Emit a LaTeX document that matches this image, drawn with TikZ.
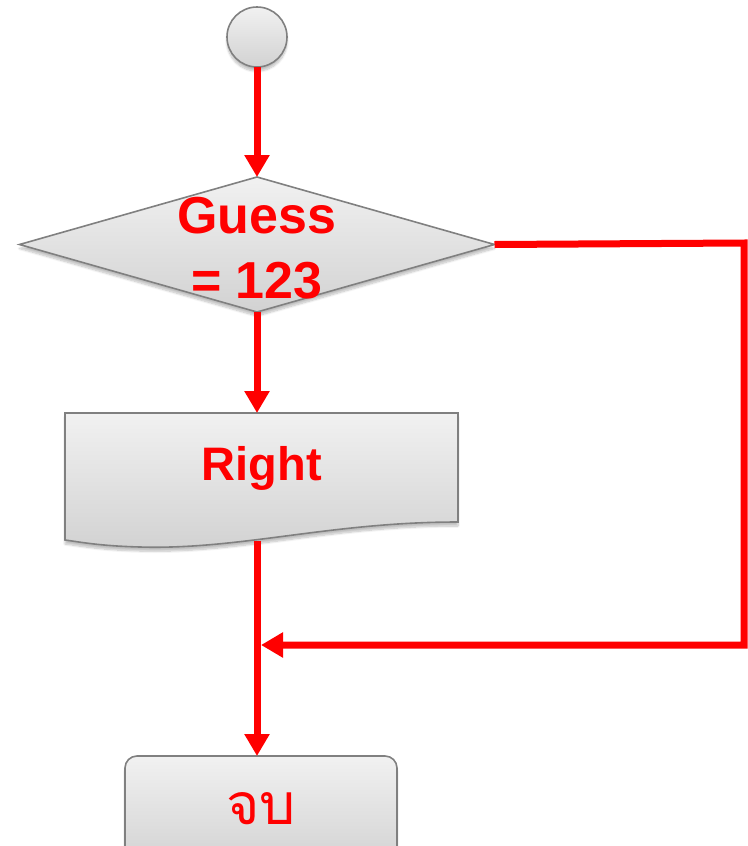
\documentclass[tikz,border=0pt]{standalone}
\usepackage{fontspec}
\setmainfont{Liberation Sans}
\newfontfamily\thaifont[Script=Thai]{Loma}
\usetikzlibrary{arrows.meta,shapes.geometric,shadows.blur}
\definecolor{shtop}{RGB}{241,241,241}
\definecolor{shbot}{RGB}{210,210,210}
\definecolor{edgegray}{RGB}{128,128,128}
\definecolor{flowred}{RGB}{255,0,0}
\tikzset{
  boxshape/.style={draw=edgegray, line width=1.6pt, top color=shtop, bottom color=shbot,
    blur shadow={shadow xshift=0pt, shadow yshift=-4pt, shadow opacity=25, shadow blur steps=8}},
  flow/.style={draw=flowred, line width=7pt, line join=miter, -{Triangle[length=22pt,width=24pt]}},
  lbl/.style={text=flowred, font=\bfseries\fontsize{52}{65}\selectfont, align=center},
}
\begin{document}
\begin{tikzpicture}[x=1pt,y=-1pt]
\useasboundingbox (0,0) rectangle (747,846);
% start circle
\node[boxshape, circle, minimum size=60pt, inner sep=0pt, outer sep=0pt] (start) at (257,37) {};
% decision diamond
\node[boxshape, diamond, minimum width=475pt, minimum height=135pt, inner sep=0pt, outer sep=0pt] (dia) at (257,244.5) {};
\node[lbl] (guess) at (257,248) {Guess\\= 123};
% document shape
\path[boxshape] (65,413) -- (458,413) -- (458,522)
  .. controls (330,522) and (240,550) .. (140,547)
  .. controls (100,546) and (80,542) .. (65,540) -- cycle;
\coordinate (doctop) at (257,413);
\coordinate (docbot) at (257,541);
\node[text=flowred, font=\bfseries\fontsize{47}{56}\selectfont] (right) at (262,468) {Right};
% end box
\node[boxshape, rectangle, rounded corners=12pt, minimum width=272pt, minimum height=110pt, inner sep=0pt, outer sep=0pt] (endbox) at (261,811) {};
\node[text=flowred, font=\thaifont\fontsize{57}{66}\selectfont, inner sep=0pt, text height=38pt, text depth=0pt, anchor=base] (endtxt) at (261,824) {จบ};
\coordinate (endtop) at (257,756);
% loop coordinates
\coordinate (rtop) at (744,243);
\coordinate (rbot) at (744,645);
\coordinate (join) at (261,645);
% connectors
\draw[flow] (start.south) -- (dia.north);
\draw[flow] (dia.south) -- (doctop);
\draw[flow] (docbot) -- (endtop);
\draw[flow] (dia.east) -- (rtop) -- (rbot) -- (join);
\end{tikzpicture}
\end{document}
